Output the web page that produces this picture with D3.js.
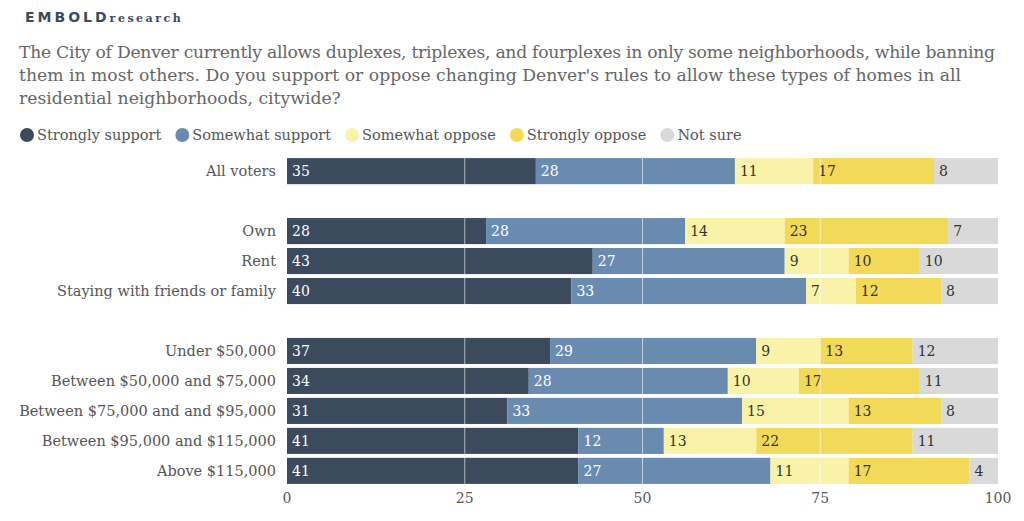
<!DOCTYPE html><html><head><meta charset="utf-8"><script src="https://cdn.jsdelivr.net/npm/d3@7"></script>
<style>body{margin:0;background:#fff;font-family:"DejaVu Serif",serif;}</style></head><body><svg id="c" width="1024" height="521"></svg><script>
const categories=["All voters","","Own","Rent","Staying with friends or family","","Under $50,000","Between $50,000 and $75,000","Between $75,000 and and $95,000","Between $95,000 and $115,000","Above $115,000"];
const series=["Strongly support","Somewhat support","Somewhat oppose","Strongly oppose","Not sure"];
const colors=["#3b4a5c","#6a8bb0","#f8f3a8","#f2d957","#d9d9d9"];
const strongSupport=[35,null,28,43,40,null,37,34,31,41,41];
const somewhatSupport=[28,null,28,27,33,null,29,28,33,12,27];
const somewhatOppose=[11,null,14,9,7,null,9,10,15,13,11];
const strongOppose=[17,null,23,10,12,null,13,17,13,22,17];
const notSure=[8,null,7,10,8,null,12,11,8,11,4];
const ticks=[0,25,50,75,100];
const vals=[strongSupport,somewhatSupport,somewhatOppose,strongOppose,notSure];
const svg=d3.select("#c");
svg.append("text").attr("x",25).attr("y",22).attr("fill","#3b4a5c").attr("font-family","DejaVu Sans").attr("font-weight","bold").attr("font-size",14).attr("letter-spacing",3).text("EMBOLD").append("tspan").attr("font-size",11).attr("letter-spacing",2.5).attr("font-family","DejaVu Serif").text("research");
const title=["The City of Denver currently allows duplexes, triplexes, and fourplexes in only some neighborhoods, while banning","them in most others. Do you support or oppose changing Denver's rules to allow these types of homes in all","residential neighborhoods, citywide?"];
title.forEach((t,i)=>svg.append("text").attr("x",19).attr("y",58+i*23).attr("font-size",17.2).attr("fill","#666").attr("textLength",i<2?(i==0?976:942):null).text(t));
// legend
let lx=20;
series.forEach((s,i)=>{const g=svg.append("g");g.append("circle").attr("cx",lx+7).attr("cy",135).attr("r",7).attr("fill",colors[i]);
const t=g.append("text").attr("x",lx+17).attr("y",140).attr("font-size",14.5).attr("fill","#555").text(s);lx+=t.node().getComputedTextLength()+31;});
const x=d3.scaleLinear().domain([0,100]).range([287,998]);
const y=d3.scaleBand().domain(d3.range(categories.length)).range([156,486]).paddingInner(0.13).paddingOuter(0.07);
categories.forEach((c,i)=>{if(!c)return;let acc=0;
svg.append("text").attr("x",276).attr("y",y(i)+y.bandwidth()/2+5).attr("text-anchor","end").attr("font-size",14.5).attr("fill","#555").text(c);
vals.forEach((v,k)=>{const val=v[i];const w=(k==4)?100-acc:val;
svg.append("rect").attr("x",x(acc)).attr("y",y(i)).attr("width",x(acc+w)-x(acc)).attr("height",y.bandwidth()).attr("fill",colors[k]);
svg.append("text").attr("x",x(acc)+5).attr("y",y(i)+y.bandwidth()/2+5).attr("font-size",14).attr("fill",k<2?"#fff":"#333").text(val);
acc+=w;});});
[25,50,75].forEach(t=>svg.append("line").attr("x1",x(t)).attr("x2",x(t)).attr("y1",150).attr("y2",486).attr("stroke","#fff").attr("stroke-opacity",0.6).attr("stroke-width",1));
ticks.forEach(t=>svg.append("text").attr("x",x(t)).attr("y",503).attr("text-anchor","middle").attr("font-size",14).attr("fill","#555").text(t));
</script></body></html>
